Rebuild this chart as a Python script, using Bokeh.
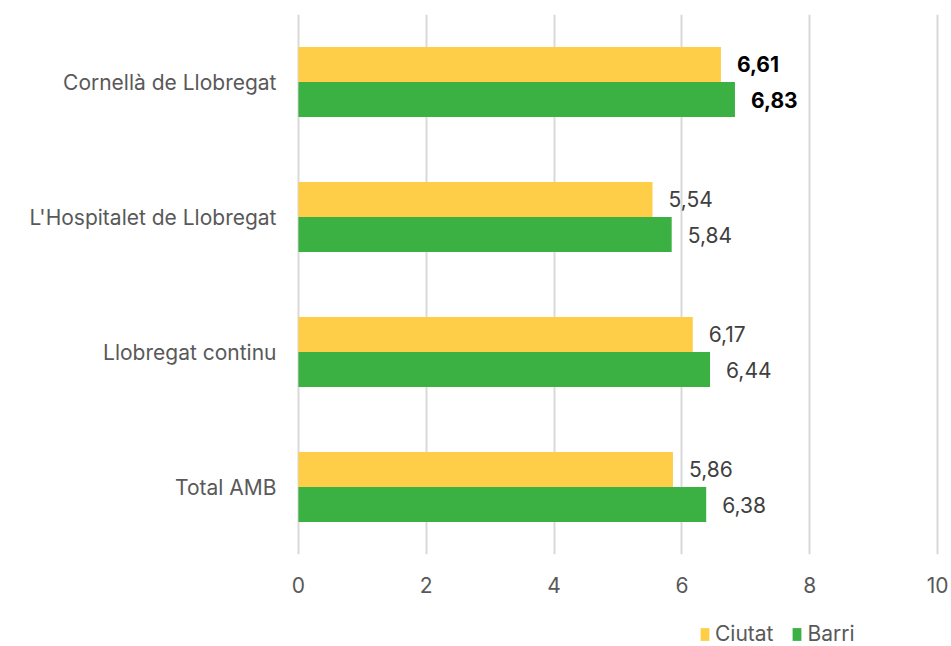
from bokeh.plotting import figure
from bokeh.layouts import column
from bokeh.models import FactorRange, ColumnDataSource, FixedTicker, Legend, LegendItem
from bokeh.transform import dodge
from bokeh.core.properties import value
from bokeh.embed import file_html
from bokeh.resources import INLINE

categories = ["Cornellà de Llobregat", "L'Hospitalet de Llobregat", "Llobregat continu", "Total AMB"]
ciutat = [6.61, 5.54, 6.17, 5.86]
barri = [6.83, 5.84, 6.44, 6.38]
ciutat_labels = ["6,61", "5,54", "6,17", "5,86"]
barri_labels = ["6,83", "5,84", "6,44", "6,38"]
label_styles = ["bold", "normal", "normal", "normal"]
label_colors = ["#000000", "#404040", "#404040", "#404040"]
x_ticks = [0, 2, 4, 6, 8, 10]
series_names = ["Ciutat", "Barri"]

FONT = "Inter"
TEXT_GRAY = "#595959"
YELLOW = "#FFCE49"
GREEN = "#3BB144"

src = ColumnDataSource(dict(
    cat=categories, ciutat=ciutat, barri=barri,
    cl=ciutat_labels, bl=barri_labels,
    style=label_styles, color=label_colors,
))

p = figure(
    y_range=FactorRange(*categories[::-1], range_padding=0),
    x_range=(-0.03, 10.03),
    frame_width=643, frame_height=540,
    output_backend="svg", toolbar_location=None,
    min_border_left=296, min_border_right=10,
    min_border_top=14, min_border_bottom=66,
)

p.hbar(y=dodge("cat", 0.13, range=p.y_range), right="ciutat", left=0, height=0.26,
       source=src, fill_color=YELLOW, line_color=None)
p.hbar(y=dodge("cat", -0.13, range=p.y_range), right="barri", left=0, height=0.26,
       source=src, fill_color=GREEN, line_color=None)

p.text(x="ciutat", y=dodge("cat", 0.13, range=p.y_range), text="cl", source=src,
       x_offset=16, text_baseline="middle", text_align="left",
       text_font=value(FONT), text_font_size="21px",
       text_font_style="style", text_color="color")
p.text(x="barri", y=dodge("cat", -0.13, range=p.y_range), text="bl", source=src,
       x_offset=16, text_baseline="middle", text_align="left",
       text_font=value(FONT), text_font_size="21px",
       text_font_style="style", text_color="color")

p.outline_line_color = None
p.ygrid.grid_line_color = None
p.xgrid.grid_line_color = "#D9D9D9"
p.xgrid.grid_line_width = 2

p.xaxis.ticker = FixedTicker(ticks=x_ticks)
for ax in (p.xaxis[0], p.yaxis[0]):
    ax.axis_line_color = None
    ax.major_tick_line_color = None
    ax.minor_tick_line_color = None
    ax.major_tick_out = 0
    ax.major_tick_in = 0
    ax.minor_tick_out = 0
    ax.minor_tick_in = 0
    ax.major_label_text_font = FONT
    ax.major_label_text_font_size = "21px"
    ax.major_label_text_color = TEXT_GRAY
p.xaxis.major_label_standoff = 22
p.yaxis.major_label_standoff = 20

# Legend strip below the chart (its swatch glyphs lie outside the visible range)
p2 = figure(
    width=949, height=26, x_range=(100, 200), y_range=(100, 200),
    x_axis_type=None, y_axis_type=None,
    output_backend="svg", toolbar_location=None, min_border=0,
)
p2.outline_line_color = None
s1 = p2.hbar(y="ciutat", left=0, right="ciutat", height=0.1, source=src,
             fill_color=YELLOW, line_color=None)
s2 = p2.hbar(y="barri", left=0, right="barri", height=0.1, source=src,
             fill_color=GREEN, line_color=None)
legend = Legend(
    items=[LegendItem(label=series_names[0], renderers=[s1]),
           LegendItem(label=series_names[1], renderers=[s2])],
    orientation="horizontal", location=(403, 0),
    label_text_font=FONT, label_text_font_size="21px", label_text_color=TEXT_GRAY,
    glyph_width=11, glyph_height=16, spacing=18, label_standoff=5,
    padding=0, margin=0, border_line_color=None, background_fill_alpha=0,
)
p2.add_layout(legend, "center")

open("out.html", "w").write(file_html(column(p, p2), INLINE))
